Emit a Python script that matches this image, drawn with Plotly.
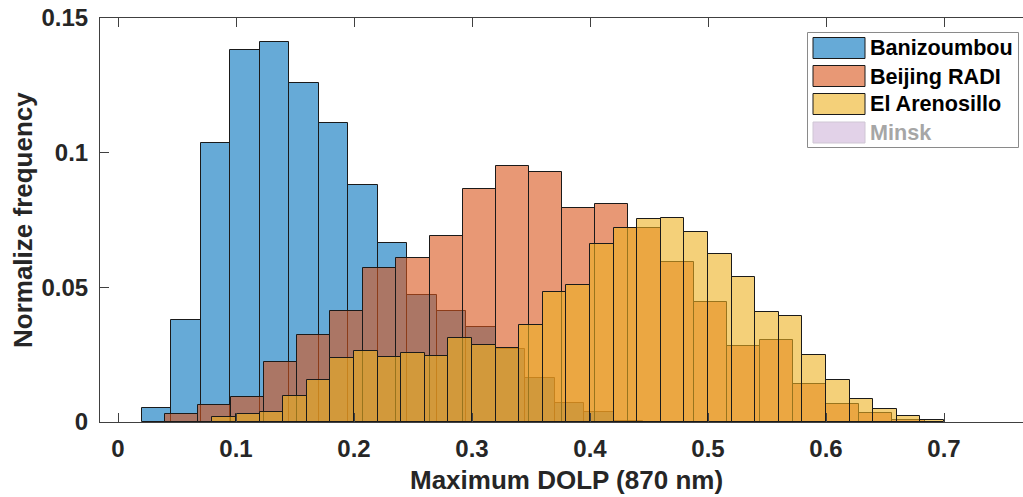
import plotly.graph_objects as go

# ---- histogram data (normalized frequency per bin) ----
ban_left = [0.020, 0.045, 0.070, 0.095, 0.120, 0.145, 0.170, 0.195, 0.220,
            0.245, 0.270, 0.295, 0.320, 0.345, 0.370, 0.395, 0.420]
ban_width = 0.025
ban_freq = [0.0053, 0.0379, 0.1036, 0.1381, 0.1411, 0.1258, 0.1109, 0.0880, 0.0666,
            0.0472, 0.0412, 0.0354, 0.0271, 0.0163, 0.0072, 0.0038, 0.0005]

bei_left = [0.040, 0.068, 0.096, 0.124, 0.152, 0.180, 0.208, 0.236, 0.264, 0.292,
            0.320, 0.348, 0.376, 0.404, 0.432, 0.460, 0.488, 0.516, 0.544, 0.572,
            0.600, 0.628, 0.656]
bei_width = 0.028
bei_freq = [0.0028, 0.0063, 0.0092, 0.0224, 0.0323, 0.0413, 0.0571, 0.0608, 0.0691,
            0.0866, 0.0951, 0.0929, 0.0793, 0.0808, 0.0719, 0.0593, 0.0447, 0.0282,
            0.0304, 0.0141, 0.0067, 0.0032, 0.0007]

are_left = [0.08, 0.10, 0.12, 0.14, 0.16, 0.18, 0.20, 0.22, 0.24, 0.26, 0.28,
            0.30, 0.32, 0.34, 0.36, 0.38, 0.40, 0.42, 0.44, 0.46, 0.48, 0.50,
            0.52, 0.54, 0.56, 0.58, 0.60, 0.62, 0.64, 0.66, 0.68]
are_width = 0.02
are_freq = [0.0017, 0.0028, 0.0038, 0.0097, 0.0156, 0.0238, 0.0262, 0.0243, 0.0257,
            0.0246, 0.0311, 0.0286, 0.0276, 0.0360, 0.0482, 0.0510, 0.0661, 0.0720,
            0.0753, 0.0759, 0.0704, 0.0624, 0.0540, 0.0407, 0.0394, 0.0248, 0.0155,
            0.0085, 0.0047, 0.0024, 0.0008]

site_names = ["Banizoumbou", "Beijing RADI", "El Arenosillo", "Minsk"]

x_tickvals = [0, 0.1, 0.2, 0.3, 0.4, 0.5, 0.6, 0.7]
x_ticktext = ["0", "0.1", "0.2", "0.3", "0.4", "0.5", "0.6", "0.7"]
y_tickvals = [0, 0.05, 0.1, 0.15]
y_ticktext = ["0", "0.05", "0.1", "0.15"]

# ---- styling ----
W, H = 1023, 497
L, R, T, B = 100, 0, 18, 75
PW, PH = W - L - R, H - T - B

FACE = ["rgba(0,114,189,0.6)", "rgba(217,83,25,0.6)", "rgba(237,177,32,0.6)",
        "rgba(226,210,232,1)"]
EDGE = "#1a1a1a"
TXT = "#262626"
FONT = "Liberation Sans"


def px_x(p):
    return (p - L) / PW


def px_y(p):
    return (H - B - p) / PH


fig = go.Figure()
for name, left, width, freq, face in [
    (site_names[0], ban_left, ban_width, ban_freq, FACE[0]),
    (site_names[1], bei_left, bei_width, bei_freq, FACE[1]),
    (site_names[2], are_left, are_width, are_freq, FACE[2]),
]:
    fig.add_trace(go.Bar(
        x=left, y=freq, width=width, offset=0, name=name,
        marker=dict(color=face, line=dict(color=EDGE, width=1)),
        showlegend=False,
    ))

axis_font = dict(family=FONT, size=24, color=TXT, weight="bold")
fig.update_layout(
    width=W, height=H,
    margin=dict(l=L, r=R, t=T, b=B, pad=0),
    paper_bgcolor="white", plot_bgcolor="white",
    barmode="overlay", bargap=0,
    xaxis=dict(
        range=[-0.01525, 0.76695], tickvals=x_tickvals, ticktext=x_ticktext,
        ticks="inside", ticklen=9, tickwidth=1, tickcolor="#404040",
        showline=True, linecolor="#404040", linewidth=1, mirror="ticks",
        showgrid=False, zeroline=False, tickfont=axis_font, ticklabelstandoff=5,
    ),
    yaxis=dict(
        range=[0, 0.15], tickvals=y_tickvals, ticktext=y_ticktext,
        ticks="inside", ticklen=9, tickwidth=1, tickcolor="#404040",
        showline=True, linecolor="#404040", linewidth=1, mirror=False,
        showgrid=False, zeroline=False, tickfont=axis_font, ticklabelstandoff=6,
    ),
)

title_font = dict(family=FONT, size=26, color=TXT, weight="bold")
fig.add_annotation(text="Maximum DOLP (870 nm)", xref="paper", yref="paper",
                   x=px_x(566), y=px_y(496.5), xanchor="center", yanchor="bottom",
                   showarrow=False, font=title_font)
fig.add_annotation(text="Normalize frequency", xref="paper", yref="paper",
                   x=px_x(23), y=px_y(220), xanchor="center", yanchor="middle",
                   textangle=-90, showarrow=False, font=title_font)

# ---- legend box drawn with shapes and text ----
fig.add_shape(type="rect", xref="paper", yref="paper",
              x0=px_x(807.5), x1=px_x(1018.5), y0=px_y(147.5), y1=px_y(32.5),
              line=dict(color="#8a8a8a", width=1), fillcolor="white", layer="above")
row_top = [37.5, 65.5, 93.5, 122.0]
legend_text_color = ["#000000", "#000000", "#000000", "#a6a6a6"]
swatch_edge = [EDGE, EDGE, EDGE, "#cfc6d4"]
for i, name in enumerate(site_names):
    y0, y1 = row_top[i], row_top[i] + 21
    fig.add_shape(type="rect", xref="paper", yref="paper",
                  x0=px_x(813), x1=px_x(865), y0=px_y(y1), y1=px_y(y0),
                  line=dict(color=swatch_edge[i], width=1),
                  fillcolor=FACE[i], layer="above")
    fig.add_annotation(text=name, xref="paper", yref="paper",
                       x=px_x(868), y=px_y((y0 + y1) / 2), xanchor="left",
                       yanchor="middle", showarrow=False,
                       font=dict(family=FONT, size=21.6, color=legend_text_color[i],
                                 weight="bold"))

fig.write_html("out.html")
